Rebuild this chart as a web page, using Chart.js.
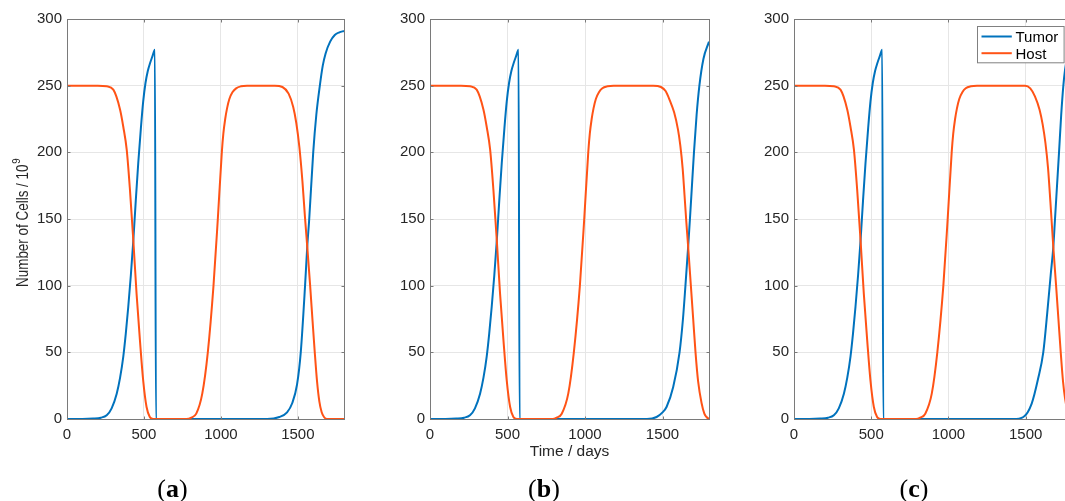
<!DOCTYPE html>
<html>
<head>
<meta charset="utf-8">
<script src="https://cdn.jsdelivr.net/npm/chart.js@4.4.1/dist/chart.umd.min.js"></script>
<style>
  html, body { margin: 0; padding: 0; background: #fff; overflow: hidden; }
  #wrap { position: relative; width: 1065px; height: 501px; overflow: hidden; }
  canvas { position: absolute; top: 0; }
</style>
</head>
<body>
<div id="wrap">
  <canvas id="panelA" width="360" height="501" style="left:0px"></canvas>
  <canvas id="panelB" width="360" height="501" style="left:360px"></canvas>
  <canvas id="panelC" width="360" height="501" style="left:720px"></canvas>
</div>
<script>
const xTicks = [0, 500, 1000, 1500];
const yTicks = [0, 50, 100, 150, 200, 250, 300];
const seriesNames = ["Tumor", "Host"];
const panelNames = ["a", "b", "c"];

// (a)
const tumorDaysA = [0, 100, 170, 220, 258, 290, 323, 345, 366, 382, 398, 415, 431, 447, 463, 480, 495, 510, 525, 540, 555, 571, 578, 800, 1100, 1300, 1380, 1430, 1464, 1495, 1519, 1547, 1561, 1574, 1600, 1620, 1643, 1662, 1680, 1710, 1740, 1770, 1800];
const tumorA     = [0, 0, 0.3, 1, 2.8, 8, 19, 31, 47, 64, 84, 108, 134, 164, 192, 218, 238, 252, 261, 267, 272, 277, 0, 0, 0, 0, 1.5, 5, 12, 26, 50, 100, 129, 150, 200, 228, 250, 265, 274, 283, 288, 290, 291];
const hostDaysA  = [0, 200, 258, 301, 345, 366, 388, 409, 431, 452, 474, 495, 517, 538, 560, 775, 808, 840, 879, 915, 952, 980, 1006, 1016, 1028, 1040, 1055, 1075, 1099, 1130, 1170, 1350, 1400, 1440, 1470, 1490, 1510, 1530, 1546, 1562, 1580, 1596, 1610, 1625, 1640, 1655, 1670, 1690, 1800];
const hostA      = [250, 250, 249.5, 247, 232, 219, 202, 172, 134, 94, 59, 29, 9, 1.5, 0, 0, 1, 4, 19, 50, 100, 150, 200, 214, 225, 233, 240, 245, 248, 249.5, 250, 250, 249, 244, 234, 222, 204, 178, 152, 128, 100, 73, 50, 28, 13, 5, 1.5, 0, 0];

// (b)
const tumorDaysB = [0, 100, 170, 220, 258, 290, 323, 345, 366, 382, 398, 415, 431, 447, 463, 480, 495, 510, 525, 540, 555, 571, 578, 800, 1100, 1400, 1462, 1500, 1526, 1569, 1610, 1632, 1648, 1666, 1677, 1690, 1703, 1720, 1738, 1764, 1800];
const tumorB     = [0, 0, 0.3, 1, 2.8, 8, 19, 31, 47, 64, 84, 108, 134, 164, 192, 218, 238, 252, 261, 267, 272, 277, 0, 0, 0, 0, 1.5, 5, 9, 24, 50, 75, 100, 130, 150, 175, 200, 228, 250, 270, 283];
const hostDaysB  = [0, 200, 258, 301, 345, 366, 388, 409, 431, 452, 474, 495, 517, 538, 560, 790, 817, 850, 892, 928, 967, 995, 1021, 1031, 1043, 1055, 1070, 1090, 1112, 1145, 1185, 1440, 1490, 1520, 1547, 1575, 1600, 1615, 1630, 1642, 1653, 1665, 1683, 1698, 1713, 1730, 1752, 1770, 1784, 1800];
const hostB      = [250, 250, 249.5, 247, 232, 219, 202, 172, 134, 94, 59, 29, 9, 1.5, 0, 0, 1, 4, 19, 50, 100, 150, 200, 214, 225, 233, 240, 245, 248, 249.5, 250, 250, 249, 246, 239, 230, 217, 205, 188, 168, 149, 130, 100, 75, 50, 28, 12, 4, 1.5, 0];

// (c)
const tumorDaysC = [0, 100, 170, 220, 258, 290, 323, 345, 366, 382, 398, 415, 431, 447, 463, 480, 495, 510, 525, 540, 555, 571, 578, 800, 1100, 1420, 1485, 1539, 1580, 1614, 1640, 1662, 1679, 1690, 1703, 1716, 1730, 1744, 1755, 1775, 1800];
const tumorC     = [0, 0, 0.3, 1, 2.8, 8, 19, 31, 47, 64, 84, 108, 134, 164, 192, 218, 238, 252, 261, 267, 272, 277, 0, 0, 0, 0, 1.5, 11.6, 30, 50, 80, 108, 129, 150, 175, 200, 228, 250, 262, 275, 284];
const hostDaysC  = [0, 200, 258, 301, 345, 366, 388, 409, 431, 452, 474, 495, 517, 538, 560, 790, 817, 850, 892, 928, 967, 995, 1021, 1031, 1043, 1055, 1070, 1090, 1112, 1145, 1185, 1496, 1530, 1560, 1590, 1610, 1628, 1645, 1660, 1679, 1697, 1712, 1727, 1742, 1755, 1775, 1800];
const hostC      = [250, 250, 249.5, 247, 232, 219, 202, 172, 134, 94, 59, 29, 9, 1.5, 0, 0, 1, 4, 19, 50, 100, 150, 200, 214, 225, 233, 240, 245, 248, 249.5, 250, 250, 248, 242, 232, 221, 207, 188, 163, 129, 100, 75, 50, 28, 15.5, 4, 0.5];

const tumorColor = "#0072BD";
const hostColor = "#FF5316";
const axisColor = "#7a7a7a";
const textColor = "#262626";
const sans = '"Liberation Sans", Arial, sans-serif';

function pts(days, vals) {
    return days.map((d, i) => ({ x: d, y: vals[i] }));
}

// box, inward ticks and all the text that is not a tick label
const framePlugin = {
    id: "frame",
    afterDraw(chart, args, o) {
        const ctx = chart.ctx;
        const a = chart.chartArea;
        const x = chart.scales.x, y = chart.scales.y;
        ctx.save();
        ctx.strokeStyle = axisColor;
        ctx.lineWidth = 1;
        const L = Math.round(a.left) + 0.5, T = Math.round(a.top) + 0.5;
        const R = Math.round(a.right) + 0.5, B = Math.round(a.bottom) + 0.5;
        ctx.strokeRect(L, T, R - L, B - T);
        ctx.beginPath();
        xTicks.forEach(v => {
            const px = Math.round(x.getPixelForValue(v)) + 0.5;
            ctx.moveTo(px, B); ctx.lineTo(px, B - 3);
            ctx.moveTo(px, T); ctx.lineTo(px, T + 3);
        });
        yTicks.forEach(v => {
            const py = Math.round(y.getPixelForValue(v)) + 0.5;
            ctx.moveTo(L, py); ctx.lineTo(L + 3, py);
            ctx.moveTo(R, py); ctx.lineTo(R - 3, py);
        });
        ctx.stroke();

        ctx.fillStyle = textColor;
        if (o.ylabel) {
            ctx.save();
            ctx.translate(27.5, 287);
            ctx.rotate(-Math.PI / 2);
            ctx.scale(0.84, 1);
            ctx.font = "16px " + sans;
            const main = "Number of Cells / 10";
            ctx.fillText(main, 0, 0);
            const w = ctx.measureText(main).width;
            ctx.font = "11.5px " + sans;
            ctx.fillText("9", w + 1, -8);
            ctx.restore();
        }
        if (o.xlabel) {
            ctx.font = "15.5px " + sans;
            ctx.textAlign = "center";
            ctx.fillText("Time / days", (a.left + a.right) / 2, 455.5);
        }
        if (o.legend) {
            const bw = 86.6, bh = 36.3;
            const bx = Math.round(a.right - 8.7 - bw) + 0.5, by = Math.round(a.top + 7) + 0.5;
            ctx.fillStyle = "#fff";
            ctx.fillRect(bx, by, bw, bh);
            ctx.strokeStyle = "#808080";
            ctx.strokeRect(bx, by, bw, bh);
            const cols = [tumorColor, hostColor];
            ctx.lineWidth = 2;
            seriesNames.forEach((name, i) => {
                const ly = by + 10 + i * 16.7;
                ctx.strokeStyle = cols[i];
                ctx.beginPath();
                ctx.moveTo(bx + 4, ly); ctx.lineTo(bx + 34.3, ly);
                ctx.stroke();
                ctx.fillStyle = "#000";
                ctx.font = "15px " + sans;
                ctx.textAlign = "left";
                ctx.textBaseline = "alphabetic";
                ctx.fillText(name, bx + 38, ly + 5.5);
            });
        }
        if (o.sub) {
            ctx.fillStyle = "#000";
            ctx.textAlign = "left";
            ctx.textBaseline = "alphabetic";
            const reg = '26px "Liberation Serif", "Times New Roman", serif';
            const bold = 'bold 26px "Liberation Serif", "Times New Roman", serif';
            ctx.font = reg;
            const pw = ctx.measureText("(").width, qw = ctx.measureText(")").width;
            ctx.font = bold;
            const lw = ctx.measureText(o.sub).width;
            let sx = o.subX - (pw + lw + qw) / 2;
            ctx.font = reg; ctx.fillText("(", sx, 497); sx += pw;
            ctx.font = bold; ctx.fillText(o.sub, sx, 497); sx += lw;
            ctx.font = reg; ctx.fillText(")", sx, 497);
        }
        ctx.restore();
    }
};

function makePanel(id, tDays, tVals, hDays, hVals, yw, padRight, frameOpts) {
    return new Chart(document.getElementById(id), {
        type: "line",
        data: {
            datasets: [
                { label: seriesNames[0], data: pts(tDays, tVals), borderColor: tumorColor, order: 1 },
                { label: seriesNames[1], data: pts(hDays, hVals), borderColor: hostColor, order: 0 }
            ]
        },
        options: {
            responsive: false,
            animation: false,
            events: [],
            layout: { padding: { left: 0, top: 19, right: padRight, bottom: 0 } },
            elements: {
                point: { radius: 0 },
                line: { borderWidth: 2, cubicInterpolationMode: "monotone" }
            },
            plugins: {
                legend: { display: false },
                tooltip: { enabled: false },
                frame: frameOpts
            },
            scales: {
                x: {
                    type: "linear",
                    min: 0,
                    max: 1800,
                    afterBuildTicks: s => { s.ticks = xTicks.map(v => ({ value: v })); },
                    afterFit: s => { s.height = 82; },
                    grid: { color: "#e6e6e6", drawTicks: false },
                    border: { display: false },
                    ticks: {
                        padding: 7,
                        color: textColor,
                        font: { family: sans, size: 15 },
                        maxRotation: 0,
                        callback: v => String(v)
                    }
                },
                y: {
                    type: "linear",
                    min: 0,
                    max: 300,
                    afterBuildTicks: s => { s.ticks = yTicks.map(v => ({ value: v })); },
                    afterFit: s => { s.width = yw; },
                    grid: { color: "#e6e6e6", drawTicks: false },
                    border: { display: false },
                    ticks: {
                        padding: 5,
                        color: textColor,
                        font: { family: sans, size: 15 },
                        callback: v => String(v)
                    }
                }
            }
        },
        plugins: [framePlugin]
    });
}

makePanel("panelA", tumorDaysA, tumorA, hostDaysA, hostA, 67, 16,
    { ylabel: true, sub: panelNames[0], subX: 172.5 });
makePanel("panelB", tumorDaysB, tumorB, hostDaysB, hostB, 70, 11,
    { xlabel: true, sub: panelNames[1], subX: 184 });
makePanel("panelC", tumorDaysC, tumorC, hostDaysC, hostC, 74, 8,
    { legend: true, sub: panelNames[2], subX: 194 });
</script>
</body>
</html>
